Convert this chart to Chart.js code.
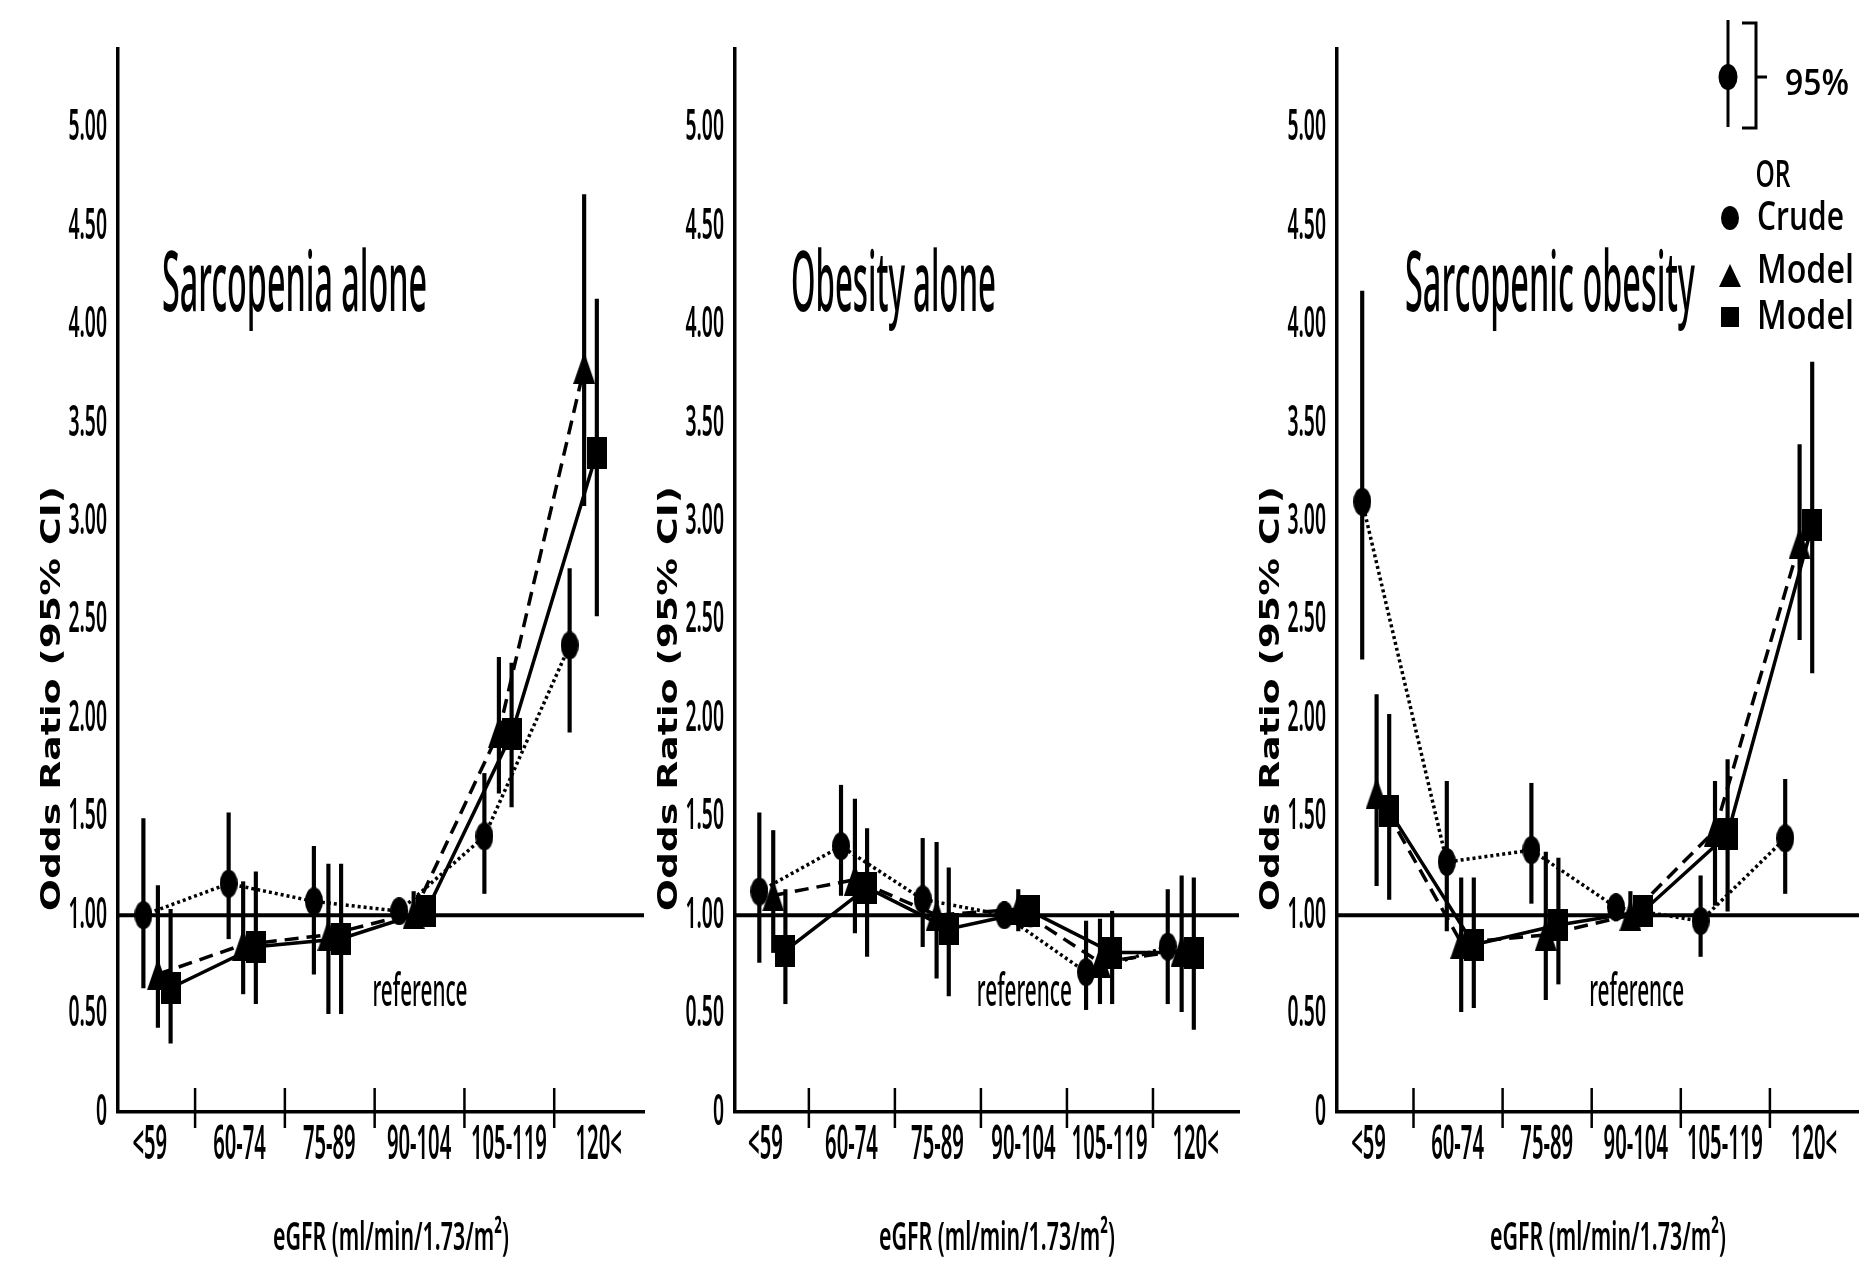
<!DOCTYPE html>
<html>
<head>
<meta charset="utf-8">
<script src="https://cdn.jsdelivr.net/npm/chart.js@4.4.1/dist/chart.umd.min.js"></script>
<style>
html, body { margin: 0; padding: 0; background: #fff; }
#wrap { position: relative; width: 1859px; height: 1278px; overflow: hidden; background: #fff; }
canvas { position: absolute; top: 0; }
</style>
</head>
<body>
<div id="wrap">
  <canvas id="c1" width="650" height="1278" style="left:0"></canvas>
  <canvas id="c2" width="600" height="1278" style="left:650px"></canvas>
  <canvas id="c3" width="609" height="1278" style="left:1250px"></canvas>
</div>
<script>
const categories = ['<59', '60-74', '75-89', '90-104', '105-119', '120<'];
const yTicks = [0, 0.5, 1, 1.5, 2, 2.5, 3, 3.5, 4, 4.5, 5];

// Sarcopenia alone
const sarcCrude    = [1.00, 1.16, 1.07, 1.02, 1.40, 2.37];
const sarcCrudeLo  = [0.63, 0.88, 0.70, 0.97, 1.11, 1.93];
const sarcCrudeHi  = [1.49, 1.52, 1.35, 1.07, 1.72, 2.76];
const sarcModelA   = [0.70, 0.85, 0.90, 1.01, 1.93, 3.78];
const sarcModelALo = [0.43, 0.60, 0.50, 0.95, 1.62, 3.08];
const sarcModelAHi = [1.15, 1.17, 1.26, 1.12, 2.31, 4.66];
const sarcModelB   = [0.63, 0.84, 0.88, 1.02, 1.92, 3.35];
const sarcModelBLo = [0.35, 0.55, 0.50, 0.95, 1.55, 2.52];
const sarcModelBHi = [1.03, 1.22, 1.26, 1.10, 2.28, 4.13];

// Obesity alone
const obesCrude    = [1.12, 1.35, 1.08, 1.00, 0.71, 0.84];
const obesCrudeLo  = [0.76, 1.10, 0.84, 0.95, 0.52, 0.55];
const obesCrudeHi  = [1.52, 1.66, 1.39, 1.07, 0.97, 1.13];
const obesModelA   = [1.10, 1.18, 1.00, 1.03, 0.76, 0.82];
const obesModelALo = [0.81, 0.91, 0.68, 0.92, 0.55, 0.51];
const obesModelAHi = [1.43, 1.59, 1.37, 1.13, 0.98, 1.20];
const obesModelB   = [0.82, 1.14, 0.93, 1.02, 0.81, 0.81];
const obesModelBLo = [0.55, 0.79, 0.59, 0.94, 0.55, 0.42];
const obesModelBHi = [1.13, 1.44, 1.24, 1.10, 1.02, 1.19];

// Sarcopenic obesity
const sobCrude    = [3.10, 1.27, 1.33, 1.04, 0.97, 1.39];
const sobCrudeLo  = [2.30, 0.92, 1.06, 0.97, 0.79, 1.11];
const sobCrudeHi  = [4.17, 1.68, 1.67, 1.10, 1.20, 1.69];
const sobModelA   = [1.62, 0.86, 0.90, 1.00, 1.43, 2.89];
const sobModelALo = [1.15, 0.51, 0.57, 0.94, 1.05, 2.40];
const sobModelAHi = [2.12, 1.19, 1.32, 1.12, 1.68, 3.39];
const sobModelB   = [1.53, 0.85, 0.95, 1.02, 1.41, 2.98];
const sobModelBLo = [1.08, 0.53, 0.65, 0.95, 1.02, 2.23];
const sobModelBHi = [2.02, 1.19, 1.29, 1.10, 1.79, 3.81];

const X_MAX = 5.8;
const Y_MAX = 5.4;

function makeMarker(kind, w, h) {
    const c = document.createElement('canvas');
    c.width = w; c.height = h;
    const g = c.getContext('2d');
    g.fillStyle = '#000';
    g.beginPath();
    if (kind === 'circle') g.ellipse(w / 2, h / 2, w / 2, h / 2, 0, 0, Math.PI * 2);
    else if (kind === 'tri') { g.moveTo(w / 2, 0); g.lineTo(w, h); g.lineTo(0, h); g.closePath(); }
    else g.rect(0, 0, w, h);
    g.fill();
    return c;
}

const seriesStyle = [
    { dash: [3, 3],  off: 0,    marker: makeMarker('circle', 18, 28) },
    { dash: [14, 8], off: 0.16, marker: makeMarker('tri', 22, 32) },
    { dash: [],      off: 0.30, marker: makeMarker('rect', 20, 32) }
];

function groupX(i) { return 0.28 + 0.94 * i; }

// text squeezed to a given width, like the condensed font in the figure
function drawFit(ctx, text, x, y, font, width, align, baseline) {
    ctx.save();
    ctx.font = font;
    ctx.fillStyle = '#000';
    ctx.textAlign = 'left';
    ctx.textBaseline = baseline || 'middle';
    const w = ctx.measureText(text).width;
    let x0 = x;
    if (align === 'center') x0 = x - width / 2;
    else if (align === 'right') x0 = x - width;
    ctx.translate(x0, y);
    ctx.scale(width / w, 1);
    ctx.fillText(text, 0, 0);
    ctx.restore();
}

function drawScaled(ctx, text, x, y, font, sx, align) {
    ctx.save();
    ctx.font = font;
    const w = ctx.measureText(text).width * sx;
    ctx.restore();
    drawFit(ctx, text, x, y, font, w, align, 'middle');
}

function decorPlugin(p) {
    return {
        id: 'decor',
        afterDraw(chart) {
            const ctx = chart.ctx;
            const area = chart.chartArea;
            const xs = chart.scales.x;
            const ys = chart.scales.y;

            // y tick labels
            yTicks.forEach(v => {
                const t = v === 0 ? '0' : v.toFixed(2);
                drawScaled(ctx, t, area.left - 11, ys.getPixelForValue(v), '600 44px "Noto Sans"', 0.44, 'right');
            });

            // x tick marks crossing the axis
            ctx.save();
            ctx.strokeStyle = '#000';
            ctx.lineWidth = 2.5;
            for (let i = 0; i < categories.length - 1; i++) {
                const px = xs.getPixelForValue(0.85 + 0.99 * i);
                ctx.beginPath();
                ctx.moveTo(px, area.bottom - 24);
                ctx.lineTo(px, area.bottom + 16);
                ctx.stroke();
            }
            ctx.restore();

            // category labels
            categories.forEach((c, i) => {
                drawScaled(ctx, c, xs.getPixelForValue(0.35 + 0.99 * i), area.bottom + 34, '600 46px "Noto Sans"', 0.44, 'center');
            });

            // x axis title
            drawFit(ctx, 'eGFR (ml/min/1.73/m²)', (area.left + area.right) / 2 + 10, area.bottom + 127,
                '600 40px "Noto Sans"', 236, 'center', 'middle');

            // y axis title
            ctx.save();
            ctx.translate(area.left - 65, ys.getPixelForValue(2.1));
            ctx.rotate(-Math.PI / 2);
            drawFit(ctx, 'Odds Ratio (95% CI)', 0, 0, 'bold 27px "DejaVu Sans"', 425, 'center', 'middle');
            ctx.restore();

            // panel title
            drawFit(ctx, p.title, area.left + p.titleX, ys.getPixelForValue(4.07), '500 84px "Noto Sans"', p.titleW, 'left', 'alphabetic');

            // reference note
            drawFit(ctx, 'reference', xs.getPixelForValue(3.33), ys.getPixelForValue(0.54), '500 46px "Noto Sans"', 95, 'center', 'alphabetic');

            if (p.legend) drawLegend(ctx, chart.width - 609);
        }
    };
}

function drawLegend(ctx, ox) {
    ctx.save();
    ctx.translate(ox, 0);
    ctx.strokeStyle = '#000';
    ctx.fillStyle = '#000';
    ctx.lineWidth = 3;
    ctx.beginPath();
    ctx.moveTo(478, 20); ctx.lineTo(478, 127);
    ctx.stroke();
    ctx.beginPath();
    ctx.ellipse(478, 77, 9.5, 13, 0, 0, Math.PI * 2);
    ctx.fill();
    ctx.beginPath();
    ctx.moveTo(492, 23); ctx.lineTo(506, 23); ctx.lineTo(506, 128); ctx.lineTo(492, 128);
    ctx.moveTo(506, 77); ctx.lineTo(517, 77);
    ctx.stroke();
    drawFit(ctx, '95%', 535, 85, '600 36px "Open Sans"', 64, 'left', 'middle');
    drawFit(ctx, 'OR', 523, 176, '600 38px "Open Sans"', 35, 'center', 'middle');

    ctx.beginPath();
    ctx.ellipse(480, 218, 9, 12, 0, 0, Math.PI * 2);
    ctx.fill();
    drawFit(ctx, 'Crude', 507, 219, '600 40px "Open Sans"', 87, 'left', 'middle');

    ctx.beginPath();
    ctx.moveTo(480, 264); ctx.lineTo(491, 287); ctx.lineTo(469, 287); ctx.closePath();
    ctx.fill();
    drawFit(ctx, 'Model', 507, 272, '600 40px "Open Sans"', 97, 'left', 'middle');

    ctx.fillRect(471, 307, 18, 20);
    drawFit(ctx, 'Model', 507, 318, '600 40px "Open Sans"', 97, 'left', 'middle');
    ctx.restore();
}

function buildDatasets(series) {
    const ds = [{
        type: 'line',
        data: [{ x: 0, y: 1 }, { x: X_MAX, y: 1 }],
        borderColor: '#000',
        borderWidth: 4,
        pointRadius: 0,
        order: 10
    }];
    series.forEach((s, k) => {
        const st = seriesStyle[k];
        ds.push({
            type: 'bar',
            data: categories.map((c, i) => ({ x: groupX(i) + st.off, y: [s.lo[i], s.hi[i]] })),
            backgroundColor: '#000',
            borderWidth: 0,
            barThickness: 3.5,
            grouped: false,
            order: 8
        });
        ds.push({
            type: 'line',
            data: categories.map((c, i) => ({ x: groupX(i) + st.off, y: s.or[i] })),
            borderColor: '#000',
            borderWidth: 3.5,
            borderDash: st.dash,
            pointStyle: st.marker,
            pointRadius: 12,
            pointBackgroundColor: '#000',
            order: 3 - k
        });
    });
    return ds;
}

const panels = [
    { id: 'c1', title: 'Sarcopenia alone', titleX: 44, titleW: 265, axisW: 118, padRight: 6,
      series: [
        { or: sarcCrude, lo: sarcCrudeLo, hi: sarcCrudeHi },
        { or: sarcModelA, lo: sarcModelALo, hi: sarcModelAHi },
        { or: sarcModelB, lo: sarcModelBLo, hi: sarcModelBHi }
      ] },
    { id: 'c2', title: 'Obesity alone', titleX: 56, titleW: 205, axisW: 85, padRight: 11,
      series: [
        { or: obesCrude, lo: obesCrudeLo, hi: obesCrudeHi },
        { or: obesModelA, lo: obesModelALo, hi: obesModelAHi },
        { or: obesModelB, lo: obesModelBLo, hi: obesModelBHi }
      ] },
    { id: 'c3', title: 'Sarcopenic obesity', titleX: 68, titleW: 290, axisW: 87, padRight: 0, legend: true,
      series: [
        { or: sobCrude, lo: sobCrudeLo, hi: sobCrudeHi },
        { or: sobModelA, lo: sobModelALo, hi: sobModelAHi },
        { or: sobModelB, lo: sobModelBLo, hi: sobModelBHi }
      ] }
];

Chart.defaults.color = '#000';

panels.forEach(p => {
    new Chart(document.getElementById(p.id), {
        type: 'line',
        data: { datasets: buildDatasets(p.series) },
        options: {
            responsive: false,
            animation: false,
            devicePixelRatio: 1,
            layout: { autoPadding: false, padding: { top: 49, right: p.padRight, left: 0, bottom: 0 } },
            plugins: { legend: { display: false }, tooltip: { enabled: false } },
            scales: {
                x: {
                    type: 'linear', min: 0, max: X_MAX, offset: false,
                    grid: { display: false, offset: false },
                    border: { display: true, color: '#000', width: 3.5 },
                    ticks: { display: false },
                    afterFit: s => { s.height = 166; }
                },
                y: {
                    type: 'linear', min: 0, max: Y_MAX,
                    grid: { display: false },
                    border: { display: true, color: '#000', width: 3.5 },
                    ticks: { display: false },
                    afterFit: s => { s.width = p.axisW; }
                }
            }
        },
        plugins: [decorPlugin(p)]
    });
});
</script>
</body>
</html>
